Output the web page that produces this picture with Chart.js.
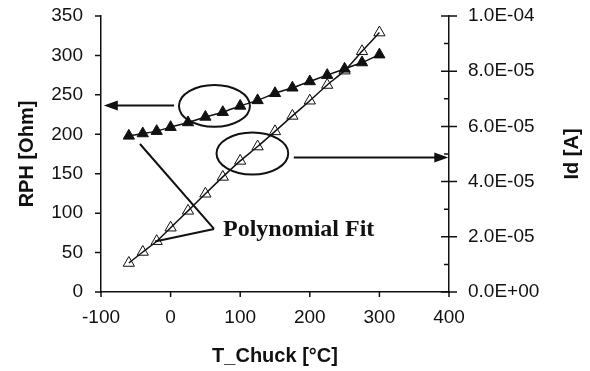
<!DOCTYPE html>
<html>
<head>
<meta charset="utf-8">
<script src="https://cdn.jsdelivr.net/npm/chart.js@4.4.1/dist/chart.umd.min.js"></script>
<style>
  html, body { margin: 0; padding: 0; background: #fff; }
  #wrap { width: 590px; height: 371px; }
</style>
</head>
<body>
<div id="wrap"><canvas id="chart"></canvas></div>
<script>
// chuck temperature [°C]
var temps = [-60, -40, -20, 0, 25, 50, 75, 100, 125, 150, 175, 200, 225, 250, 275, 300];
// RPH [Ohm], filled triangles, left axis
var rph = [198, 201, 204, 209, 215, 222, 228, 236, 243, 252, 259, 267, 275, 283, 291, 301];
// Id [A], open triangles, right axis
var idA = [1.05e-5, 1.45e-5, 1.84e-5, 2.33e-5, 2.94e-5, 3.56e-5, 4.17e-5, 4.75e-5, 5.27e-5, 5.82e-5, 6.38e-5, 6.93e-5, 7.5e-5, 8.02e-5, 8.72e-5, 9.4e-5];

var xTicks = [-100, 0, 100, 200, 300, 400];
var rphTicks = [0, 50, 100, 150, 200, 250, 300, 350];
var idTicks = [0, 2e-5, 4e-5, 6e-5, 8e-5, 1e-4];
var idMinor = [1e-5, 3e-5, 5e-5, 7e-5, 9e-5];

// annotations, in data units of x / left y axis
var ellipses = [
  { x: 63, y: 236, rx: 51, ry: 26.6 },
  { x: 117.5, y: 175.6, rx: 51.5, ry: 26.6 }
];
var arrows = [
  { x1: 5, x2: -96, y: 236.5 },
  { x1: 177, x2: 399, y: 170.6 }
];
var pointers = [
  { x1: 62.4, y1: 80, x2: -44, y2: 187.7 },
  { x1: 62.4, y1: 80, x2: -22.4, y2: 64 }
];
var fitLabel = { text: 'Polynomial Fit', x: 75.3, y: 71 };

function sci(v) {
  if (Math.abs(v) < 1e-12) return '0.0E+00';
  var e = Math.floor(Math.log10(Math.abs(v)) + 1e-9);
  var m = v / Math.pow(10, e);
  return m.toFixed(1) + 'E' + (e < 0 ? '-' : '+') + String(Math.abs(e)).padStart(2, '0');
}

var ink = '#111';
var tickFont = { family: "'Liberation Sans', Arial, sans-serif", size: 19 };
var titleFont = { family: "'Liberation Sans', Arial, sans-serif", size: 20, weight: 'bold' };

var annotate = {
  id: 'annotate',
  afterDraw: function (chart) {
    var ctx = chart.ctx;
    var sx = chart.scales.x, sy = chart.scales.y, sr = chart.scales.y1;
    var area = chart.chartArea;
    ctx.save();
    ctx.strokeStyle = ink;
    ctx.fillStyle = ink;
    ctx.lineWidth = 1.5;

    // tick marks
    ctx.beginPath();
    xTicks.forEach(function (v) {
      var px = sx.getPixelForValue(v);
      ctx.moveTo(px, area.bottom); ctx.lineTo(px, area.bottom + 5);
    });
    rphTicks.forEach(function (v) {
      var py = sy.getPixelForValue(v);
      ctx.moveTo(area.left, py); ctx.lineTo(area.left - 6, py);
    });
    idTicks.forEach(function (v) {
      var py = sr.getPixelForValue(v);
      ctx.moveTo(area.right - 8, py); ctx.lineTo(area.right + 8, py);
    });
    idMinor.forEach(function (v) {
      var py = sr.getPixelForValue(v);
      ctx.moveTo(area.right - 5, py); ctx.lineTo(area.right, py);
    });
    ctx.stroke();

    // ellipses
    ctx.lineWidth = 2;
    ellipses.forEach(function (e) {
      var cx = sx.getPixelForValue(e.x), cy = sy.getPixelForValue(e.y);
      var rx = sx.getPixelForValue(e.x + e.rx) - cx;
      var ry = cy - sy.getPixelForValue(e.y + e.ry);
      ctx.beginPath();
      ctx.ellipse(cx, cy, rx, ry, 0, 0, Math.PI * 2);
      ctx.stroke();
    });

    // arrows
    arrows.forEach(function (a) {
      var x1 = sx.getPixelForValue(a.x1), x2 = sx.getPixelForValue(a.x2);
      var py = sy.getPixelForValue(a.y);
      var dir = x2 > x1 ? 1 : -1;
      ctx.beginPath();
      ctx.moveTo(x1, py); ctx.lineTo(x2 - dir * 12, py);
      ctx.stroke();
      ctx.beginPath();
      ctx.moveTo(x2, py);
      ctx.lineTo(x2 - dir * 14, py - 5);
      ctx.lineTo(x2 - dir * 14, py + 5);
      ctx.closePath();
      ctx.fill();
    });

    // pointer lines
    ctx.beginPath();
    pointers.forEach(function (p) {
      ctx.moveTo(sx.getPixelForValue(p.x1), sy.getPixelForValue(p.y1));
      ctx.lineTo(sx.getPixelForValue(p.x2), sy.getPixelForValue(p.y2));
    });
    ctx.stroke();

    // label
    ctx.font = "bold 24px 'Liberation Serif', 'Times New Roman', serif";
    ctx.textAlign = 'left';
    ctx.textBaseline = 'alphabetic';
    ctx.fillText(fitLabel.text, sx.getPixelForValue(fitLabel.x), sy.getPixelForValue(fitLabel.y));

    // right axis title (reads bottom to top)
    ctx.font = "bold 20px 'Liberation Sans', Arial, sans-serif";
    ctx.translate(572, (area.top + area.bottom) / 2);
    ctx.rotate(-Math.PI / 2);
    ctx.textAlign = 'center';
    ctx.textBaseline = 'middle';
    ctx.fillText('Id [A]', 0, 0);
    ctx.restore();
  }
};

function fixY(width) {
  return function (s) {
    s.width = width;
    s.paddingTop = 0;
    s.paddingBottom = 0;
  };
}

new Chart(document.getElementById('chart'), {
  type: 'line',
  data: {
    datasets: [
      {
        label: 'RPH',
        data: temps.map(function (t, i) { return { x: t, y: rph[i] }; }),
        yAxisID: 'y',
        borderColor: ink,
        borderWidth: 1.5,
        tension: 0.2,
        pointStyle: 'triangle',
        pointRadius: 6.5,
        pointBackgroundColor: ink,
        pointBorderColor: ink,
        pointBorderWidth: 1
      },
      {
        label: 'Id',
        data: temps.map(function (t, i) { return { x: t, y: idA[i] }; }),
        yAxisID: 'y1',
        borderColor: ink,
        borderWidth: 1.5,
        tension: 0.2,
        pointStyle: 'triangle',
        pointRadius: 6.5,
        pointBackgroundColor: 'rgba(0,0,0,0)',
        pointBorderColor: ink,
        pointBorderWidth: 1
      }
    ]
  },
  options: {
    responsive: true,
    maintainAspectRatio: false,
    animation: false,
    layout: { padding: { top: 16, left: 0, right: 0, bottom: 0 } },
    plugins: {
      legend: { display: false },
      tooltip: { enabled: false }
    },
    scales: {
      x: {
        type: 'linear',
        min: -100,
        max: 400,
        ticks: { stepSize: 100, font: tickFont, color: ink, padding: 14 },
        grid: { display: false, drawTicks: false },
        border: { display: true, color: ink, width: 1.5 },
        title: { display: true, text: 'T_Chuck [°C]', font: titleFont, color: ink, padding: { top: 0, bottom: 3 } },
        afterFit: function (s) { s.height = 79; }
      },
      y: {
        position: 'left',
        min: 0,
        max: 350,
        ticks: { stepSize: 50, font: tickFont, color: ink, padding: 18 },
        grid: { display: false, drawTicks: false },
        border: { display: true, color: ink, width: 1.5 },
        title: { display: true, text: 'RPH [Ohm]', font: titleFont, color: ink, padding: { top: 15, bottom: 0 } },
        afterFit: fixY(101)
      },
      y1: {
        position: 'right',
        min: 0,
        max: 1e-4,
        ticks: { stepSize: 2e-5, font: tickFont, color: ink, padding: 19, callback: function (v) { return sci(v); } },
        grid: { display: false, drawTicks: false },
        border: { display: true, color: ink, width: 1.5 },
        afterFit: fixY(141)
      }
    }
  },
  plugins: [annotate]
});
</script>
</body>
</html>
